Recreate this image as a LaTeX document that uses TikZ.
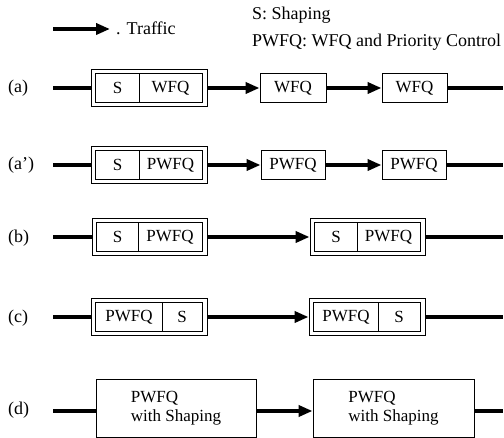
\documentclass[tikz,border=0pt]{standalone}
\usepackage{fontspec}
\setmainfont{Liberation Serif}
\usetikzlibrary{arrows.meta}

% two-part queue block: outer frame, inner frame, divider and two labels
% #1 name, #2 left x, #3 right x, #4 row y, #5 divider x, #6 left text, #7 right text
\newcommand\twopart[7]{%
  \node[obox,minimum width={#3-#2}] (#1) at ({(#2+#3)/2},#4) {};
  \draw[thin box] ([shift={(5,4)}]#1.north west) rectangle ([shift={(-5,-4)}]#1.south east);
  \draw[thin box] (#5,#4-14.5) -- (#5,#4+14.5);
  \node (#1l) at ({(#2+5+#5)/2},#4) {#6};
  \node (#1r) at ({(#5+#3-5)/2},#4) {#7};
}

\begin{document}
\begin{tikzpicture}[x=1pt,y=-1pt,
  font=\fontsize{17}{19}\selectfont,
  wire/.style={line width=3.5pt},
  flow/.style={wire,-{Triangle[length=14pt,width=11pt]}},
  thin box/.style={line width=0.9pt},
  qbox/.style={draw,thin box,minimum height=29pt,inner sep=0pt},
  obox/.style={draw,thin box,minimum height=37pt,inner sep=0pt},
  bigbox/.style={draw,thin box,minimum height=58pt,inner sep=0pt,align=left},
  tag/.style={anchor=west,inner sep=0pt,font=\fontsize{18}{20}\selectfont},
]
\useasboundingbox (0,0) rectangle (504,438);

% legend
\coordinate (k0) at (53,29);
\coordinate (k1) at (110,29);
\draw[flow] (k0) -- (k1);
\node[tag] (kt) at (116,28) {. Traffic};
\node[tag] (ks) at (252,15) {S: Shaping};
\node[tag] (kp) at (252,42) {PWFQ: WFQ and Priority Control};

% row labels
\node[tag] (la) at (8,88) {(a)};
\node[tag] (lap) at (8,165) {(a')};
\node[tag] (lb) at (8,238) {(b)};
\node[tag] (lc) at (8,318) {(c)};
\node[tag] (ld) at (8,410) {(d)};

% (a)
\coordinate (a0) at (53,88);
\twopart{a1}{91}{207}{88}{139}{S}{WFQ}
\node[qbox,minimum width=66] (a2) at (293,88) {WFQ};
\node[qbox,minimum width=65] (a3) at (414.5,88) {WFQ};
\coordinate (a4) at (503,88);
\draw[wire] (a0) -- (a1);
\draw[flow] (a1) -- (a2);
\draw[flow] (a2) -- (a3);
\draw[wire] (a3) -- (a4);

% (a')
\coordinate (p0) at (53,165);
\twopart{p1}{91}{207}{165}{139}{S}{PWFQ}
\node[qbox,minimum width=64] (p2) at (293,165) {PWFQ};
\node[qbox,minimum width=64] (p3) at (414,165) {PWFQ};
\coordinate (p4) at (503,165);
\draw[wire] (p0) -- (p1);
\draw[flow] (p1) -- (p2);
\draw[flow] (p2) -- (p3);
\draw[wire] (p3) -- (p4);

% (b)
\coordinate (b0) at (53,237);
\twopart{b1}{92}{207}{237}{138}{S}{PWFQ}
\twopart{b2}{310}{425}{237}{357}{S}{PWFQ}
\coordinate (b3) at (503,237);
\draw[wire] (b0) -- (b1);
\draw[flow] (b1) -- (b2);
\draw[wire] (b2) -- (b3);

% (c)
\coordinate (c0) at (53,317);
\twopart{c1}{91}{207}{317}{162}{PWFQ}{S}
\twopart{c2}{309}{425}{317}{378}{PWFQ}{S}
\coordinate (c3) at (503,317);
\draw[wire] (c0) -- (c1);
\draw[flow] (c1) -- (c2);
\draw[wire] (c2) -- (c3);

% (d)
\node[bigbox,minimum width=160] (d1) at (176,408) {PWFQ\\with Shaping};
\node[bigbox,minimum width=161] (d2) at (393.5,408) {PWFQ\\with Shaping};
\coordinate (d0) at (53,411);
\coordinate (d3) at (503,411);
\draw[wire] (d0) -- (d0 -| d1.west);
\draw[flow] (d0 -| d1.east) -- (d0 -| d2.west);
\draw[wire] (d0 -| d2.east) -- (d3);
\end{tikzpicture}
\end{document}
